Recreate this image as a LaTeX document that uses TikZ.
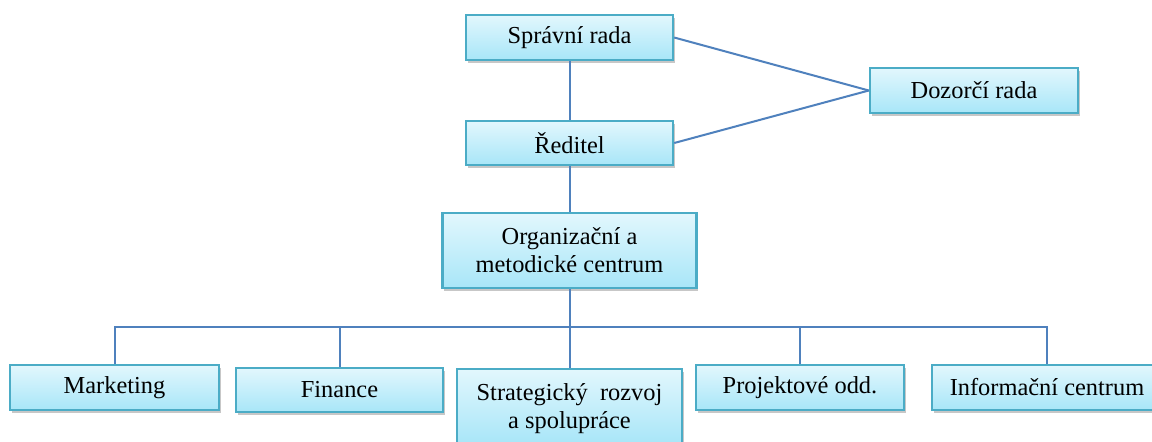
\documentclass[tikz,border=0pt]{standalone}
\usepackage{fontspec}
\setmainfont{Liberation Serif}
\usetikzlibrary{shadows,calc}
\definecolor{boxline}{HTML}{4BACC6}
\definecolor{boxtop}{HTML}{E2F7FD}
\definecolor{boxbot}{HTML}{A8E6F8}
\definecolor{conn}{HTML}{4F81BD}
\tikzset{
  orgbox/.style={draw=boxline, line width=1.2pt, top color=boxtop, bottom color=boxbot,
    rectangle, inner sep=0pt, align=center, font=\fontsize{12.2}{14}\selectfont,
    drop shadow={shadow xshift=0.8pt, shadow yshift=-1.4pt, fill=black, opacity=0.22}},
  link/.style={draw=conn, line width=1pt}
}
\begin{document}
\begin{tikzpicture}[x=0.5pt,y=-0.5pt]
\clip (0,0) rectangle (1152,441);
\fill[white] (0,0) rectangle (1152,441);
\node[orgbox, minimum width=103.5pt, minimum height=22.5pt] (spr) at (569.5,37.5) {Správní rada};
\node[orgbox, minimum width=103.5pt, minimum height=22pt] (red) at (569.5,143) {Ředitel};
\node[orgbox, minimum width=104pt, minimum height=22.5pt] (doz) at (974,90.5) {Dozorčí rada};
\node[orgbox, minimum width=127pt, minimum height=37.5pt] (org) at (569.5,250.5) {Organizační a\\metodické centrum};
\node[orgbox, minimum width=104.5pt, minimum height=22.5pt] (mk) at (114.5,387.5) {Marketing};
\node[orgbox, minimum width=103.5pt, minimum height=22pt] (fin) at (339.5,390) {Finance};
\node[orgbox, minimum width=112.5pt, minimum height=37.5pt, text depth=0pt] (str) at (569.5,406.5) {Strategický\ \ rozvoj\\a spolupráce};
\node[orgbox, minimum width=104pt, minimum height=22.5pt] (proj) at (800,387.5) {Projektové odd.};
\node[orgbox, minimum width=115pt, minimum height=22.5pt] (inf) at (1047,387.5) {Informační centrum};
\coordinate (bus) at (569.5,327);
\draw[link] (spr.south) -- (red.north);
\draw[link] (red.south) -- (org.north);
\draw[link] (spr.east) -- (doz.west);
\draw[link] (red.east) -- (doz.west);
\draw[link] (org.south) -- (bus) -| (mk.north);
\draw[link] (bus) -| (fin.north);
\draw[link] (bus) -- (str.north);
\draw[link] (bus) -| (proj.north);
\draw[link] (bus) -| (inf.north);
\end{tikzpicture}
\end{document}
